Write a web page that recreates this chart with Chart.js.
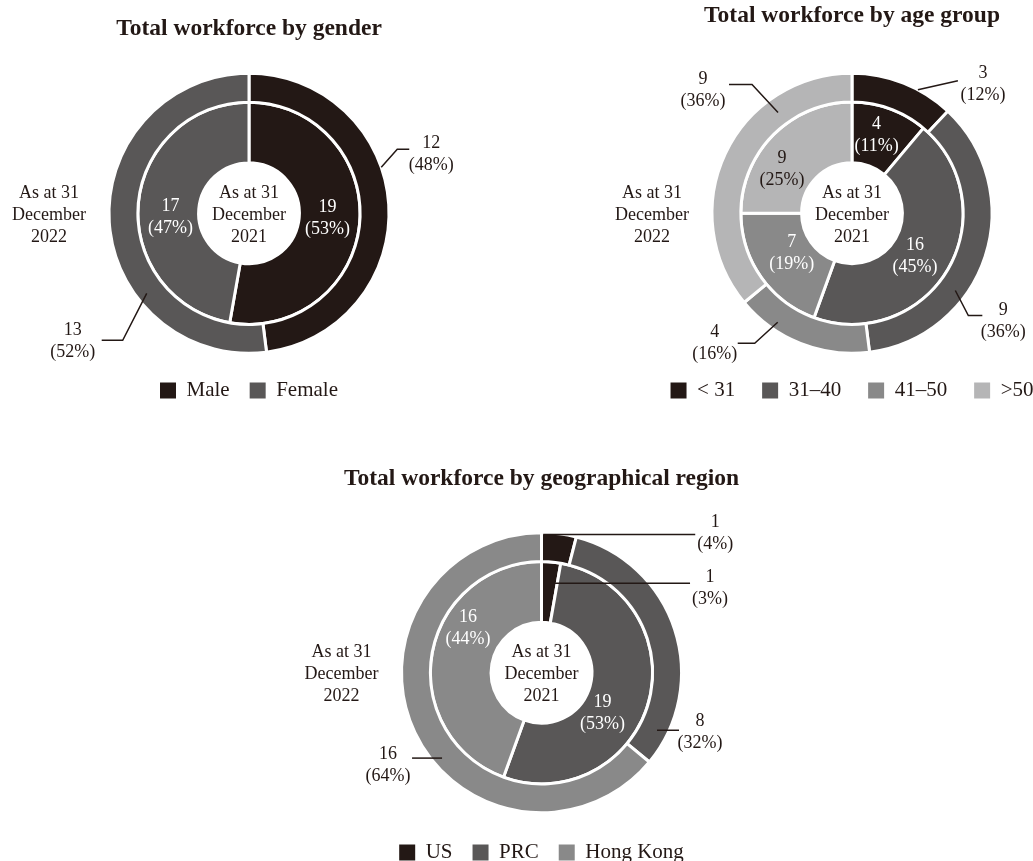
<!DOCTYPE html>
<html>
<head>
<meta charset="utf-8">
<script src="https://cdn.jsdelivr.net/npm/chart.js@4/dist/chart.umd.min.js"></script>
<style>
  body { margin: 0; background: #fff; overflow: hidden; }
  #page { position: relative; width: 1033px; height: 861px; overflow: hidden; }
  canvas { position: absolute; }
</style>
</head>
<body>
<div id="page">
  <canvas id="genderChart" width="498" height="411" style="left:0;top:0"></canvas>
  <canvas id="ageChart" width="664" height="411" style="left:520px;top:0"></canvas>
  <canvas id="regionChart" width="623" height="433" style="left:230px;top:440px"></canvas>
</div>
<script>
// data, outer ring = 2022, inner ring = 2021
const genderLabels = ['Male', 'Female'];
const gender2022 = [12, 13];
const gender2021 = [19, 17];
const genderPct2022 = [48, 52];
const genderPct2021 = [53, 47];

const ageLabels = ['< 31', '31–40', '41–50', '>50'];
const age2022 = [3, 9, 4, 9];
const age2021 = [4, 16, 7, 9];
const agePct2022 = [12, 36, 16, 36];
const agePct2021 = [11, 45, 19, 25];

const regionLabels = ['US', 'PRC', 'Hong Kong'];
const region2022 = [1, 8, 16];
const region2021 = [1, 19, 16];
const regionPct2022 = [4, 32, 64];
const regionPct2021 = [3, 53, 44];

const shades = ['#231815', '#595757', '#898989', '#b5b5b6'];
const dark = '#231815';

Chart.defaults.font.family = "'Liberation Serif', 'Times New Roman', serif";
Chart.defaults.color = dark;

function isLight(hex) {
  const n = parseInt(hex.slice(1), 16);
  const lum = (0.299 * (n >> 16) + 0.587 * ((n >> 8) & 255) + 0.114 * (n & 255)) / 255;
  return lum > 0.6;
}

// point on an arc: t along the angle, rf across the ring
function arcPoint(arc, t, rf) {
  const p = arc.getProps(['x', 'y', 'startAngle', 'endAngle', 'innerRadius', 'outerRadius'], true);
  const a = p.startAngle + t * (p.endAngle - p.startAngle);
  const r = p.innerRadius + rf * (p.outerRadius - p.innerRadius);
  return { x: p.x + r * Math.cos(a), y: p.y + r * Math.sin(a) };
}

const ringLabels = {
  id: 'ringLabels',
  afterDraw(chart, args, opts) {
    const ctx = chart.ctx;
    const metas = [chart.getDatasetMeta(0).data, chart.getDatasetMeta(1).data];
    const cx = metas[0][0].x, cy = metas[0][0].y;
    const block = (lines, x, y, color) => {
      ctx.fillStyle = color;
      lines.forEach((s, k) => ctx.fillText(s, x, y + (k - (lines.length - 1) / 2) * 22));
    };
    ctx.save();
    ctx.font = '18px "Liberation Serif"';
    ctx.textAlign = 'center';
    ctx.textBaseline = 'middle';

    block(['As at 31', 'December', '2021'], cx, cy + 2, dark);
    block(['As at 31', 'December', '2022'], cx - 200, cy + 2, dark);

    opts.inside.forEach(({ i, nudge }) => {
      const ds = chart.data.datasets[1];
      const p = arcPoint(metas[1][i], 0.5, 0.5);
      const col = isLight(ds.backgroundColor[i]) ? dark : '#fff';
      block([String(ds.data[i]), '(' + opts.pct[1][i] + '%)'], p.x + nudge[0], p.y + nudge[1], col);
    });

    ctx.strokeStyle = dark;
    ctx.lineWidth = 1.5;
    opts.callouts.forEach(c => {
      const ds = chart.data.datasets[c.ds];
      const s = arcPoint(metas[c.ds][c.i], c.t, c.rf);
      ctx.beginPath();
      ctx.moveTo(s.x, s.y);
      c.path.forEach(d => ctx.lineTo(s.x + d[0], s.y + d[1]));
      ctx.stroke();
      const end = c.path[c.path.length - 1];
      block([String(ds.data[c.i]), '(' + opts.pct[c.ds][c.i] + '%)'],
        s.x + end[0] + c.text[0], s.y + end[1] + c.text[1], dark);
    });
    ctx.restore();
  }
};

function makeChart(id, title, labels, outer, inner, pct2022, pct2021, look) {
  const colors = shades.slice(0, labels.length);
  return new Chart(document.getElementById(id), {
    type: 'doughnut',
    data: {
      labels: labels,
      datasets: [
        { data: outer, backgroundColor: colors, borderColor: '#fff', borderWidth: 3, weight: 29, clip: false },
        { data: inner, backgroundColor: colors, borderColor: '#fff', borderWidth: 3, weight: 61, clip: false },
      ],
    },
    options: {
      responsive: false,
      animation: false,
      radius: 140,
      cutout: '36%',
      layout: { padding: 0 },
      plugins: {
        tooltip: { enabled: false },
        title: {
          display: true,
          text: title,
          color: dark,
          font: { size: 23.5, weight: 'bold', lineHeight: 1.2 },
          padding: look.titlePad,
        },
        legend: {
          position: 'bottom',
          labels: {
            color: dark,
            font: { size: 21 },
            boxWidth: 16,
            boxHeight: 16,
            padding: look.legendGap,
            generateLabels: (ch) =>
              Chart.overrides.doughnut.plugins.legend.labels.generateLabels(ch)
                .map(l => ({ ...l, lineWidth: 0, strokeStyle: 'rgba(0,0,0,0)' })),
          },
        },
        ringLabels: {
          pct: [pct2022, pct2021],
          inside: look.inside,
          callouts: look.callouts,
        },
      },
    },
    plugins: [ringLabels],
  });
}

makeChart('genderChart', 'Total workforce by gender', genderLabels, gender2022, gender2021,
  genderPct2022, genderPct2021, {
    titlePad: { top: 15, bottom: 23.4 },
    legendGap: 20,
    inside: [{ i: 0, nudge: [-2, -2] }, { i: 1, nudge: [2, 11] }],
    callouts: [
      { ds: 0, i: 0, t: 0.41, rf: 1.0, path: [[16, -18], [28, -18]], text: [22, 5] },
      { ds: 0, i: 1, t: 0.316, rf: 0.65, path: [[-24, 47], [-45, 47]], text: [-29, 1] },
    ],
  });

makeChart('ageChart', 'Total workforce by age group', ageLabels, age2022, age2021,
  agePct2022, agePct2021, {
    titlePad: { top: 1.9, bottom: 43.4 },
    legendGap: 27,
    inside: [
      { i: 0, nudge: [-3, -2] }, { i: 1, nudge: [-7, 2.5] },
      { i: 2, nudge: [6, -6] }, { i: 3, nudge: [-13, 13] },
    ],
    callouts: [
      { ds: 0, i: 0, t: 0.65, rf: 1.0, path: [[40, -9]], text: [25, 3.5] },
      { ds: 0, i: 1, t: 0.645, rf: 0.62, path: [[13, 25], [27, 25]], text: [21, 5.5] },
      { ds: 0, i: 2, t: 0.72, rf: 0.72, path: [[-23, 21], [-40, 21]], text: [-23, 0.5] },
      { ds: 0, i: 3, t: 0.72, rf: 0.48, path: [[-26, -28], [-49, -28]], text: [-26, 6] },
    ],
  });

makeChart('regionChart', 'Total workforce by geographical region', regionLabels, region2022, region2021,
  regionPct2022, regionPct2021, {
    titlePad: { top: 24.9, bottom: 30.4 },
    legendGap: 20,
    inside: [{ i: 1, nudge: [-17, 20] }, { i: 2, nudge: [6, -30] }],
    callouts: [
      { ds: 0, i: 0, t: 0.05, rf: 0.94, path: [[152, 0]], text: [20, -1.5] },
      { ds: 1, i: 0, t: 0.86, rf: 0.66, path: [[135, 0]], text: [20, 5] },
      { ds: 0, i: 1, t: 0.886, rf: 0.62, path: [[22, 0]], text: [21, 2.5] },
      { ds: 0, i: 2, t: 0.433, rf: 0.69, path: [[-30, 0]], text: [-24, 7] },
    ],
  });
</script>
</body>
</html>
